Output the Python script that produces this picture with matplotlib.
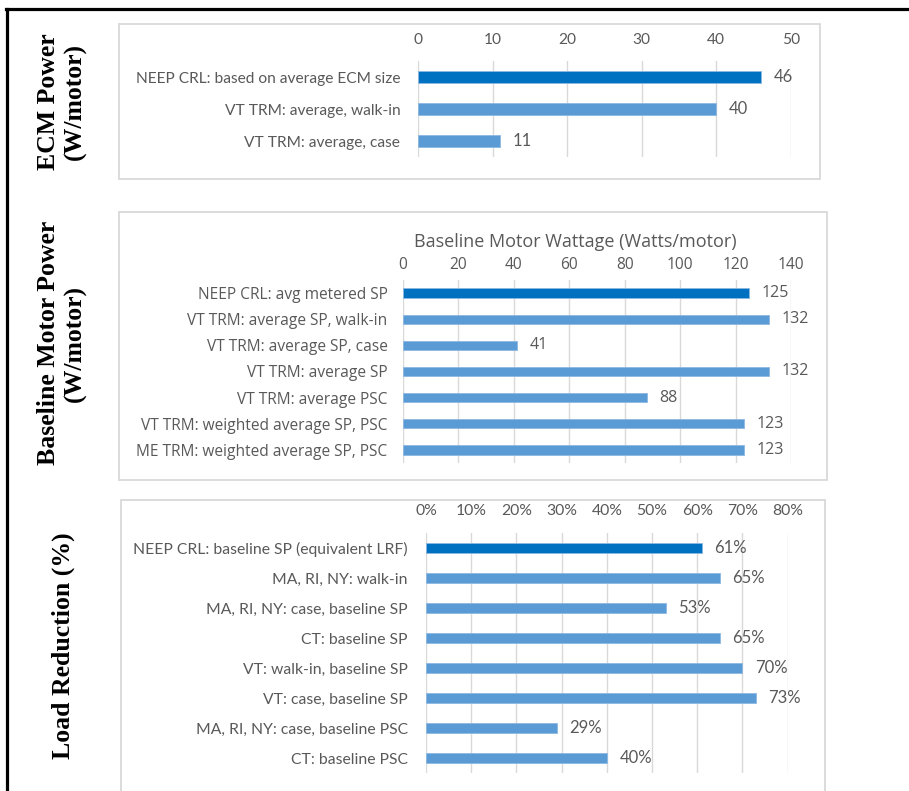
import matplotlib
matplotlib.use('Agg')
import matplotlib.pyplot as plt
from matplotlib.patches import Rectangle
from matplotlib.lines import Line2D
from matplotlib import rcParams

rcParams['font.family'] = ['Lato', 'DejaVu Sans']
rcParams['text.color'] = '#595959'
rcParams['xtick.color'] = '#595959'
rcParams['ytick.color'] = '#595959'

# ---- data ----
ecm_labels = ['NEEP CRL: based on average ECM size',
              'VT TRM: average, walk-in',
              'VT TRM: average, case']
ecm_vals = [46, 40, 11]

base_labels = ['NEEP CRL: avg metered SP',
               'VT TRM: average SP, walk-in',
               'VT TRM: average SP, case',
               'VT TRM: average SP',
               'VT TRM: average PSC',
               'VT TRM: weighted average SP, PSC',
               'ME TRM: weighted average SP, PSC']
base_vals = [125, 132, 41, 132, 88, 123, 123]

lr_labels = ['NEEP CRL: baseline SP (equivalent LRF)',
             'MA, RI, NY: walk-in',
             'MA, RI, NY: case, baseline SP',
             'CT: baseline SP',
             'VT: walk-in, baseline SP',
             'VT: case, baseline SP',
             'MA, RI, NY: case, baseline PSC',
             'CT: baseline PSC']
lr_vals = [61, 65, 53, 65, 70, 73, 29, 40]

dark = '#0070C0'
light = '#5B9BD5'
grid = '#D9D9D9'

W, H = 909., 791.
fig = plt.figure(figsize=(W/100, H/100), dpi=100)


def px_axes(x0, x1, y0, y1):
    # pixel box (top-left origin) -> figure axes
    return fig.add_axes([x0/W, 1-y1/H, (x1-x0)/W, (y1-y0)/H])


def panel_box(x0, x1, y0, y1):
    fig.patches.append(Rectangle((x0/W, 1-y1/H), (x1-x0)/W, (y1-y0)/H,
                                 transform=fig.transFigure, fill=False,
                                 edgecolor=grid, lw=1.3))


def bars(ax, labels, vals, xmax, step, fmt, fs, dfs, lpad, tpad, fam):
    n = len(vals)
    pos = list(range(n))
    cols = [dark] + [light]*(n-1)
    ax.barh(pos, vals, height=0.35, color=cols, edgecolor='#8DB8E2',
            lw=0.6, zorder=3)
    ax.set_ylim(n-0.5, -0.5)
    ax.set_xlim(0, xmax)
    ticks = list(range(0, xmax+1, step))
    ax.set_xticks(ticks)
    ax.set_xticklabels([fmt.format(t) for t in ticks], family=fam)
    ax.set_yticks(pos)
    ax.set_yticklabels(labels, family=fam)
    ax.xaxis.tick_top()
    ax.tick_params(axis='both', length=0, labelsize=fs)
    ax.tick_params(axis='y', pad=lpad)
    ax.tick_params(axis='x', pad=tpad)
    ax.grid(axis='x', color=grid, lw=1.0, zorder=0)
    for s in ax.spines.values():
        s.set_visible(False)
    for p, v in zip(pos, vals):
        ax.annotate(fmt.format(v), xy=(v, p), xytext=(9, 0),
                    textcoords='offset points', va='center', ha='left',
                    fontsize=dfs, color='#595959', family=fam)


# outer frame (top and left only)
fig.add_artist(Line2D([6/W, 1], [1-9/H, 1-9/H], color='black', lw=2.3,
                      transform=fig.transFigure))
fig.add_artist(Line2D([7.5/W, 7.5/W], [0, 1-9/H], color='black', lw=2.3,
                      transform=fig.transFigure))

# panel 1: ECM power
panel_box(119, 820, 24, 179)
ax1 = px_axes(418.3, 790.7, 61, 157)
bars(ax1, ecm_labels, ecm_vals, 50, 10, '{}', 11.2, 12, 13, 10,
     ['Lato', 'DejaVu Sans'])

# panel 2: baseline motor power
sans2 = ['Open Sans', 'DejaVu Sans']
panel_box(119, 826.5, 212, 480)
ax2 = px_axes(403, 791, 280, 463)
bars(ax2, base_labels, base_vals, 140, 20, '{}', 11.2, 11.5, 11, 5, sans2)
ax2.set_xlabel('Baseline Motor Wattage (Watts/motor)', fontsize=13,
               color='#595959', family=sans2)
ax2.xaxis.set_label_position('top')
ax2.xaxis.set_label_coords(0.443, 1.18)

# panel 3: load reduction
panel_box(120.5, 825, 500, 800)
ax3 = px_axes(426, 787.7, 533, 773)
bars(ax3, lr_labels, lr_vals, 80, 10, '{}%', 11.3, 12, 13, 11,
     ['Lato', 'DejaVu Sans'])

# left side labels
serif = dict(family='Liberation Serif', weight='bold', fontsize=18.5,
             color='black', rotation=90, ha='center', va='center',
             multialignment='center', linespacing=1.15)
fig.text(62/W, 1-102/H, 'ECM Power\n(W/motor)', **serif)
fig.text(62/W, 1-343/H, 'Baseline Motor Power\n(W/motor)', **serif)
fig.text(63/W, 1-646/H, 'Load Reduction (%)', **serif)

fig.savefig('out.png', dpi=100)
